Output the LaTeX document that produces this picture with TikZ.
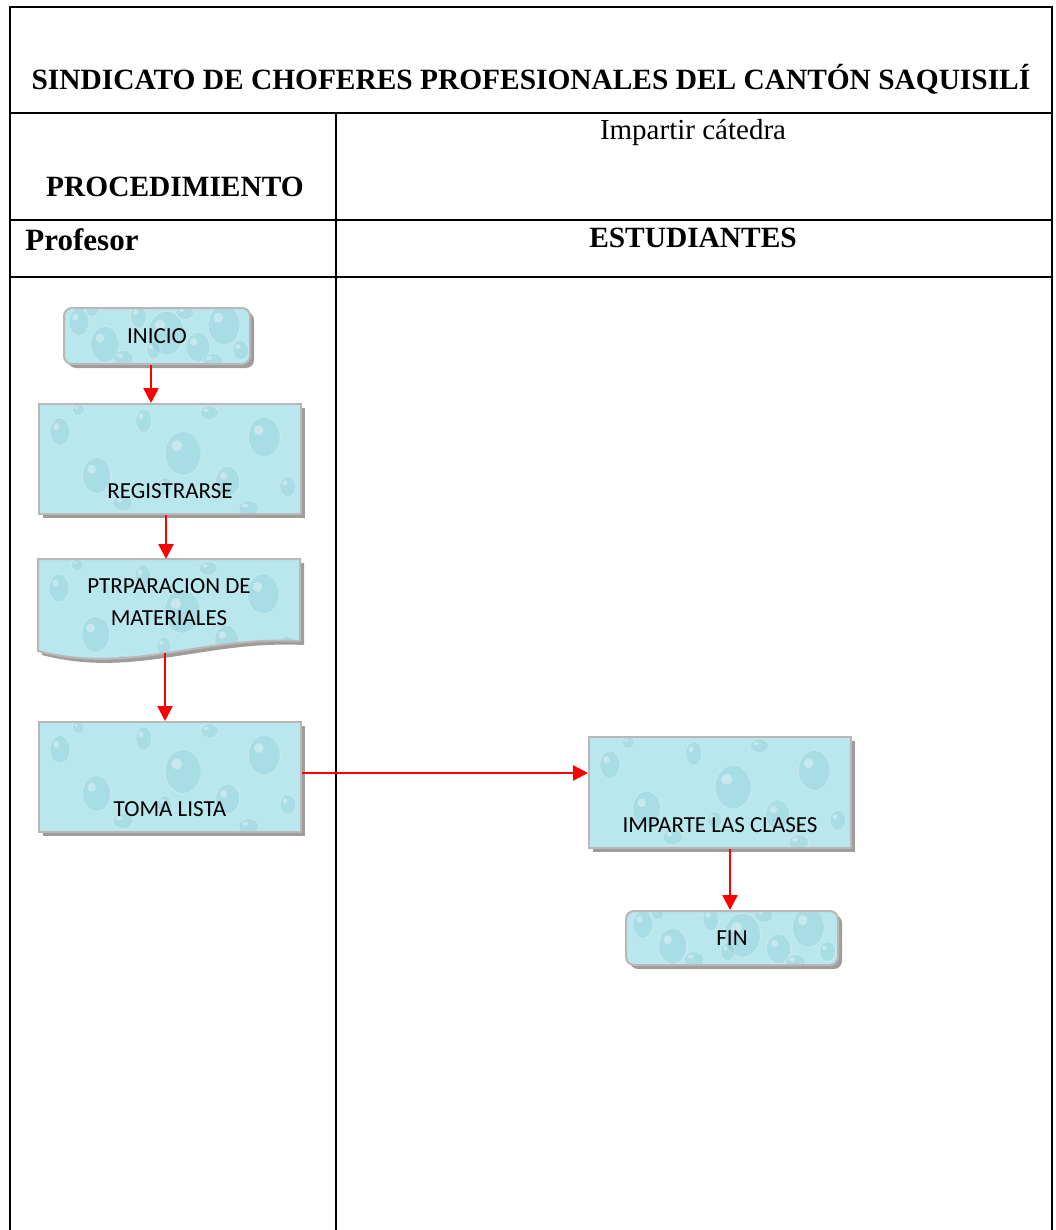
\documentclass[tikz,border=0pt]{standalone}
\usepackage{fontspec}
\setmainfont{Liberation Serif}
\newfontfamily\boxfont{Carlito}
\usetikzlibrary{arrows.meta,shadows,calc}

\definecolor{gridline}{RGB}{0,0,0}
\definecolor{flowred}{RGB}{255,0,0}
\definecolor{boxfill}{RGB}{184,231,237}
\definecolor{boxedge}{RGB}{188,183,183}
\definecolor{boxshadow}{RGB}{160,156,156}
\definecolor{dropshade}{RGB}{110,182,200}

\tikzset{
  grid/.style={draw=gridline, line width=2pt},
  head/.style={font=\bfseries\fontsize{29.4}{34}\selectfont, inner sep=0pt, anchor=base},
  plain/.style={font=\fontsize{29}{34}\selectfont, inner sep=0pt, anchor=base},
  % water-drop texture painted inside the flow shapes
  drops/.style={path picture={
    \path (path picture bounding box.south west) coordinate (pp-sw)
          (path picture bounding box.north east) coordinate (pp-ne);
    \foreach \u/\v/\rx/\ry in {0.08/0.75/10/14, 0.22/0.35/14/18, 0.40/0.85/8/12,
        0.55/0.55/18/22, 0.72/0.30/12/15, 0.86/0.70/16/20, 0.95/0.25/8/10,
        0.32/0.10/10/8, 0.65/0.92/9/7, 0.15/0.95/6/6, 0.48/0.25/7/9, 0.80/0.05/10/8}{
      \path let \p1=(pp-sw), \p2=(pp-ne) in
        ({\x1+\u*(\x2-\x1)},{\y1+\v*(\y2-\y1)}) coordinate (pp);
      \fill[dropshade, opacity=.2] (pp) ellipse ({\rx pt} and {\ry pt});
      \draw[white, opacity=.3, line width=.8pt] (pp) ellipse ({\rx pt} and {\ry pt});
      \fill[white, opacity=.35] ([xshift={-0.35*\rx}, yshift={0.35*\ry}]pp)
        ellipse ({0.3*\rx pt} and {0.25*\ry pt});
    }
  }},
  flowshape/.style={draw=boxedge, line width=2pt, fill=boxfill, drops,
    drop shadow={shadow xshift=4pt, shadow yshift=-4pt, fill=boxshadow, opacity=1}},
  boxtext/.style={font=\boxfont\fontsize{23}{32}\selectfont},
  procbox/.style={flowshape, boxtext, inner sep=0pt, anchor=north west,
    minimum width=262pt, text height=94pt, text depth=16pt},
  termbox/.style={flowshape, boxtext, rounded corners=8pt, inner sep=0pt,
    anchor=north west},
  flow/.style={draw=flowred, line width=2.4pt, -{Triangle[length=15pt, width=15pt]}},
}

\begin{document}
\begin{tikzpicture}[x=1pt, y=-1pt]
\useasboundingbox (0,0) rectangle (1055,1230);

% table frame
\draw[grid] (10,1230) -- (10,7) -- (1052,7) -- (1052,1230);
\draw[grid] (10,113) -- (1052,113);
\draw[grid] (10,220) -- (1052,220);
\draw[grid] (10,277) -- (1052,277);
\draw[grid] (336,113) -- (336,1230);

% header texts
\node[head] (title) at (531,90) {SINDICATO DE CHOFERES PROFESIONALES DEL CANTÓN SAQUISILÍ};
\node[plain] (activity) at (693,140) {Impartir cátedra};
\node[head] (proc) at (175,197) {PROCEDIMIENTO};
\node[head, font=\bfseries\fontsize{31}{36}\selectfont] (prof) at (82,251) {Profesor};
\node[head] (est) at (693,248) {ESTUDIANTES};

% flow shapes
\node[termbox, minimum width=186pt, minimum height=56pt] (inicio) at (63,307) {INICIO};
\node[procbox] (reg) at (38,403) {REGISTRARSE};

\path[flowshape] (38,559) -- (300,559) -- (300,641)
  .. controls (200,636) and (130,675) .. (38,651) -- cycle;
\node[boxtext, align=center, inner sep=0pt] (ptr) at (169,602) {PTRPARACION DE\\MATERIALES};
\coordinate (ptrbase) at (165,653);

\node[procbox] (toma) at (38,721) {TOMA LISTA};
\node[procbox, text height=95pt] (imp) at (588,736) {IMPARTE LAS CLASES};
\node[termbox, minimum width=212pt, minimum height=54pt] (fin) at (625,910) {FIN};

% connectors
\draw[flow] ([xshift=-6pt]inicio.south) -- ([xshift=-6pt]inicio.south |- reg.north);
\draw[flow] ([xshift=-4pt]reg.south) -- ([xshift=-4pt]reg.south |- 0,559);
\draw[flow] (ptrbase) -- (ptrbase |- toma.north);
\draw[flow] ([yshift=4pt]toma.east) -- ([yshift=4pt]toma.east -| imp.west);
\draw[flow] ([xshift=10pt]imp.south) -- ([xshift=10pt]imp.south |- fin.north);
\end{tikzpicture}
\end{document}
